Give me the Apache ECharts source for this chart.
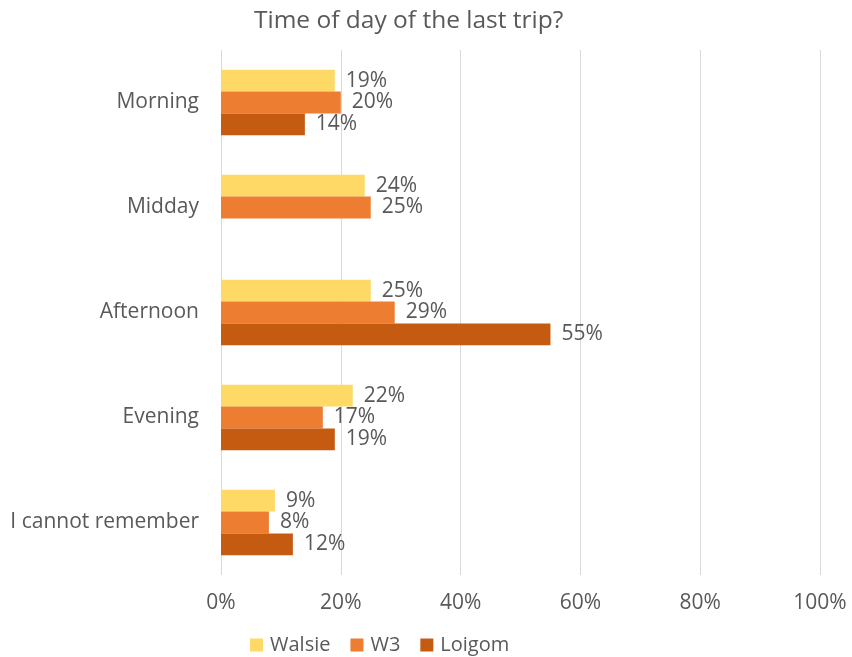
<!DOCTYPE html>
<html>
<head>
<meta charset="utf-8">
<script src="https://cdn.jsdelivr.net/npm/echarts@6/dist/echarts.min.js"></script>
<style>
  html, body { margin: 0; padding: 0; background: #ffffff; }
  #chart { width: 852px; height: 657px; }
</style>
</head>
<body>
<div id="chart"></div>
<script>
// Time of day of the last trip, share of respondents per brand (%)
const categories = ['Morning', 'Midday', 'Afternoon', 'Evening', 'I cannot remember'];
const walsie = [19, 24, 25, 22, 9];
const w3 = [20, 25, 29, 17, 8];
const loigom = [14, null, 55, 19, 12];
const xTicks = [0, 20, 40, 60, 80, 100];

const textColor = '#595959';
const fontFamily = '"Open Sans", "Noto Sans", sans-serif';

const chart = echarts.init(document.getElementById('chart'), null, { renderer: 'canvas' });

function barSeries(name, values, color) {
  return {
    name: name,
    type: 'bar',
    data: values,
    barCategoryGap: '37.5%',
    barGap: '0%',
    itemStyle: { color: color },
    label: {
      show: true,
      position: 'right',
      distance: 11,
      formatter: p => p.value + '%',
      color: textColor,
      fontSize: 21,
      fontFamily: fontFamily
    }
  };
}

chart.setOption({
  animation: false,
  backgroundColor: '#ffffff',
  title: {
    text: 'Time of day of the last trip?',
    left: 249,
    top: 4,
    textStyle: { color: textColor, fontSize: 24.5, fontWeight: 'normal', fontFamily: fontFamily }
  },
  legend: {
    top: 630,
    left: 245,
    itemWidth: 13,
    itemHeight: 13,
    itemGap: 20,
    icon: 'rect',
    textStyle: { color: textColor, fontSize: 20, fontFamily: fontFamily, padding: [0, 0, 0, 2] },
    data: ['Walsie', 'W3', 'Loigom']
  },
  grid: { left: 221, right: 32, top: 50, bottom: 82, containLabel: false },
  xAxis: {
    type: 'value',
    min: xTicks[0],
    max: xTicks[xTicks.length - 1],
    interval: xTicks[1] - xTicks[0],
    axisLine: { show: false },
    axisTick: { show: false },
    splitLine: { show: true, lineStyle: { color: '#d9d9d9', width: 1 } },
    axisLabel: {
      formatter: v => v + '%',
      color: textColor,
      fontSize: 21,
      fontFamily: fontFamily,
      margin: 18
    }
  },
  yAxis: {
    type: 'category',
    data: categories,
    inverse: true,
    axisLine: { show: false },
    axisTick: { show: false },
    axisLabel: { color: textColor, fontSize: 21, fontFamily: fontFamily, margin: 22 }
  },
  series: [
    barSeries('Walsie', walsie, '#ffd966'),
    barSeries('W3', w3, '#ed7d31'),
    barSeries('Loigom', loigom, '#c55a11')
  ]
});
</script>
</body>
</html>
